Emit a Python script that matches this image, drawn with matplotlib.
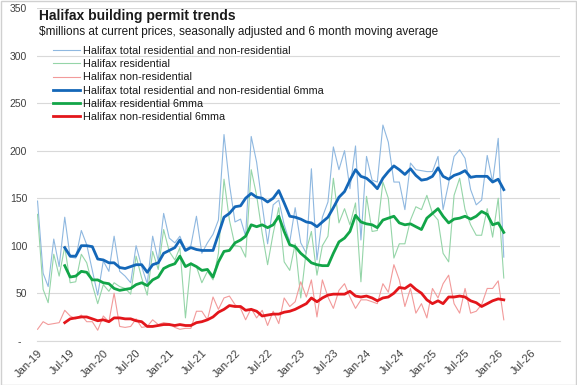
import matplotlib
matplotlib.use("Agg")
import matplotlib.pyplot as plt
import matplotlib.dates as mdates
import pandas as pd
from matplotlib.patches import Rectangle

# monthly, Jan-2019 .. Feb-2026 ($ millions, SA)
months = pd.date_range("2019-01-01", periods=86, freq="MS")

total = [147, 71, 57, 107, 78, 130, 88, 87, 116, 101,
         74, 48, 84, 73, 110, 73, 68, 61, 100, 78,
         60, 110, 84, 134, 108, 103, 110, 96, 100, 131,
         92, 103, 112, 127, 217, 165, 125, 128, 110, 215,
         188, 143, 102, 143, 148, 122, 104, 140, 103, 92,
         181, 85, 130, 146, 204, 180, 200, 160, 205, 106,
         194, 169, 167, 227, 209, 167, 167, 138, 187, 180,
         179, 178, 178, 194, 138, 166, 194, 201, 192, 159,
         143, 148, 195, 167, 213, 88]

residential = [133, 54, 40, 91, 68, 99, 61, 62, 91, 82,
               59, 39, 59, 52, 61, 57, 55, 49, 89, 66,
               48, 94, 75, 117, 94, 85, 98, 24, 82, 78,
               61, 73, 64, 92, 170, 127, 100, 99, 88, 180,
               153, 113, 80, 113, 140, 83, 74, 102, 45, 95,
               115, 69, 100, 110, 171, 124, 139, 122, 145, 62,
               152, 115, 116, 167, 150, 87, 102, 102, 127, 141,
               138, 153, 134, 127, 92, 83, 153, 171, 138, 122,
               111, 111, 139, 109, 150, 66]

non_residential = [12, 20, 17, 18, 19, 32, 26, 23, 27, 20,
                   20, 11, 26, 20, 50, 15, 14, 15, 23, 14,
                   15, 22, 17, 19, 18, 14, 12, 13, 13, 31,
                   31, 22, 46, 33, 45, 47, 38, 34, 22, 34,
                   24, 32, 16, 31, 18, 45, 36, 41, 62, 46,
                   64, 25, 64, 46, 34, 53, 60, 46, 34, 43,
                   43, 41, 39, 60, 51, 80, 64, 36, 55, 29,
                   39, 24, 55, 45, 60, 69, 39, 29, 55, 29,
                   31, 38, 55, 55, 63, 22]

# 6 month moving averages, Jun-2019 .. Feb-2026
total_6mma = [98, 89, 89, 100, 100, 99, 86, 85, 82, 82,
              77, 76, 78, 80, 80, 72, 80, 82, 92, 95,
              98, 106, 95, 98, 96, 95, 95, 95, 112, 130,
              134, 141, 142, 150, 155, 151, 150, 146, 150, 158,
              145, 131, 130, 128, 125, 124, 120, 125, 130, 140,
              151, 157, 169, 180, 173, 171, 166, 160, 171, 178,
              184, 180, 175, 181, 174, 169, 170, 173, 182, 173,
              170, 174, 176, 179, 172, 173, 173, 173, 167, 170,
              159]

residential_6mma = [79, 67, 68, 73, 72, 64, 64, 61, 60, 55,
                    53, 54, 55, 59, 61, 58, 64, 67, 76, 79,
                    81, 89, 78, 81, 78, 74, 75, 67, 83, 94,
                    95, 103, 106, 110, 122, 120, 122, 119, 122, 131,
                    115, 101, 99, 92, 87, 82, 80, 79, 79, 92,
                    104, 108, 115, 132, 125, 123, 122, 119, 127, 129,
                    131, 124, 122, 123, 120, 117, 129, 134, 139, 131,
                    124, 128, 129, 131, 128, 131, 136, 133, 122, 124,
                    114]

non_residential_6mma = [19, 23, 24, 25, 25, 23, 21, 22, 20, 24,
                        24, 23, 23, 21, 20, 15, 15, 16, 17, 17,
                        16, 17, 16, 16, 19, 20, 22, 25, 30, 33,
                        37, 36, 36, 32, 33, 31, 26, 27, 28, 28,
                        30, 31, 33, 36, 39, 45, 41, 45, 48, 49,
                        49, 49, 52, 47, 46, 47, 45, 42, 45, 46,
                        50, 56, 55, 59, 54, 50, 43, 39, 42, 39,
                        46, 46, 47, 46, 42, 40, 36, 39, 42, 44,
                        43]

labels = ["Halifax total residential and non-residential",
          "Halifax residential",
          "Halifax non-residential",
          "Halifax total residential and non-residential 6mma",
          "Halifax residential 6mma",
          "Halifax non-residential 6mma"]

plt.rcParams["font.family"] = ["Liberation Sans", "DejaVu Sans"]

fig = plt.figure(figsize=(5.77, 3.85), dpi=100)
ax = fig.add_axes([37 / 577, 1 - 340.7 / 385, 523 / 577, 332.5 / 385])

ma_months = months[5:]
h = []
h += ax.plot(months, total, color="#8fb8e0", lw=0.8)
h += ax.plot(months, residential, color="#95d5a8", lw=0.8)
h += ax.plot(months, non_residential, color="#f29a9a", lw=0.8)
h += ax.plot(ma_months, total_6mma, color="#1467b8", lw=2.0)
h += ax.plot(ma_months, residential_6mma, color="#12a548", lw=2.0)
h += ax.plot(ma_months, non_residential_6mma, color="#e3161b", lw=2.0)

ax.set_ylim(0, 350)
ax.set_yticks(range(0, 351, 50))
ax.set_yticklabels(["-  "] + [str(v) for v in range(50, 351, 50)])
ax.set_xlim(pd.Timestamp("2018-12-29"), pd.Timestamp("2026-12-10"))
ax.xaxis.set_major_locator(mdates.MonthLocator(bymonth=[1, 7]))
ax.xaxis.set_major_formatter(mdates.DateFormatter("%b-%y"))
plt.setp(ax.get_xticklabels(), rotation=45, ha="right", rotation_mode="anchor")

ax.grid(axis="y", color="#d9d9d9", lw=0.8)
ax.set_axisbelow(True)
for s in ["top", "right", "left"]:
    ax.spines[s].set_visible(False)
ax.spines["bottom"].set_color("#d9d9d9")
ax.tick_params(axis="both", length=0, labelsize=8, colors="#404040")
ax.tick_params(axis="y", pad=7, labelsize=7.5)
ax.tick_params(axis="x", pad=5)

fig.text(39 / 577, 1 - 20 / 385, "Halifax building permit trends",
         fontsize=10, fontweight="bold", color="#1a1a1a", va="baseline")
fig.text(39 / 577, 1 - 35 / 385,
         "$millions at current prices, seasonally adjusted and 6 month moving average",
         fontsize=8.5, color="#1a1a1a", va="baseline")

ax.legend(h, labels, loc="upper left", bbox_to_anchor=(53 / 577, 1 - 46 / 385),
          bbox_transform=fig.transFigure, frameon=False, fontsize=7.8,
          handlelength=2.5, handletextpad=0.3, labelspacing=0.3, borderpad=0,
          borderaxespad=0, labelcolor="#1a1a1a")

fig.patches.append(Rectangle((0.001, 0.001), 0.997, 0.997, transform=fig.transFigure,
                             fill=False, edgecolor="#d0d0d0", lw=1))

fig.savefig("out.png", dpi=100)
